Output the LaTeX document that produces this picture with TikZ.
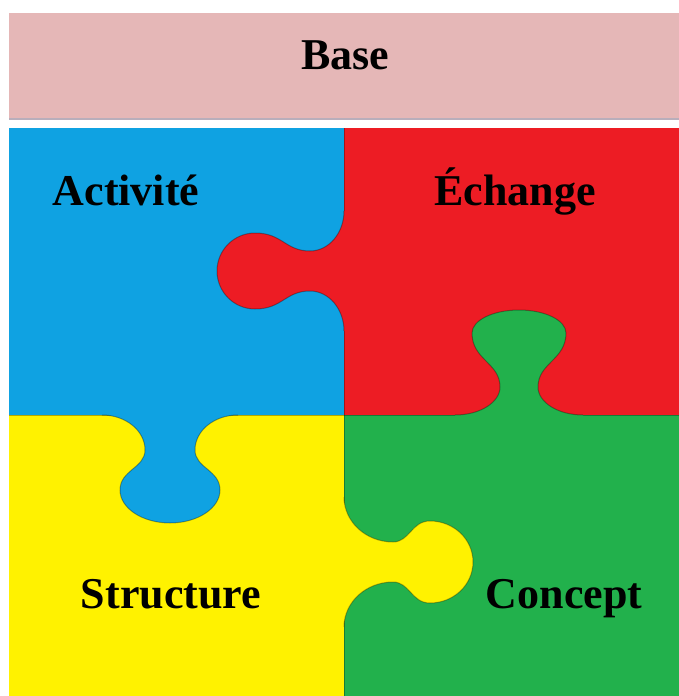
\documentclass[tikz,border=0pt]{standalone}
\usepackage{fontspec}
\setmainfont{Liberation Serif}

\definecolor{basepink}{HTML}{E5B7B7}
\definecolor{baserule}{HTML}{B9AEBB}
\definecolor{pieceblue}{HTML}{0FA2E2}
\definecolor{piecered}{HTML}{ED1C24}
\definecolor{pieceyellow}{HTML}{FFF200}
\definecolor{piecegreen}{HTML}{22B14C}

% knob=colour/neck half/neck depth/bulb half/bulb depth/depth/flare half
\tikzset{
  seam/.style={draw=black,draw opacity=0.3,line width=1pt},
  pics/knob/.style args={#1/#2/#3/#4/#5/#6/#7}{code={
    \fill[#1] ({-#7},-3) -- ({-#7},0)
      .. controls ({-#7+0.552*(#7-#2)},0) and ({-#2},{0.448*#3}) .. ({-#2},#3)
      .. controls ({-#2},{#3+0.45*(#5-#3)}) and ({-#4},{#5-0.5*(#5-#3)}) .. ({-#4},#5)
      .. controls ({-#4},{#5+0.552*(#6-#5)}) and ({-0.552*#4},#6) .. (0,#6)
      .. controls ({0.552*#4},#6) and (#4,{#5+0.552*(#6-#5)}) .. (#4,#5)
      .. controls (#4,{#5-0.5*(#5-#3)}) and (#2,{#3+0.45*(#5-#3)}) .. (#2,#3)
      .. controls (#2,{0.448*#3}) and ({#7-0.552*(#7-#2)},0) .. (#7,0)
      -- (#7,-3) -- cycle;
    \draw[seam] ({-#7},0)
      .. controls ({-#7+0.552*(#7-#2)},0) and ({-#2},{0.448*#3}) .. ({-#2},#3)
      .. controls ({-#2},{#3+0.45*(#5-#3)}) and ({-#4},{#5-0.5*(#5-#3)}) .. ({-#4},#5)
      .. controls ({-#4},{#5+0.552*(#6-#5)}) and ({-0.552*#4},#6) .. (0,#6)
      .. controls ({0.552*#4},#6) and (#4,{#5+0.552*(#6-#5)}) .. (#4,#5)
      .. controls (#4,{#5-0.5*(#5-#3)}) and (#2,{#3+0.45*(#5-#3)}) .. (#2,#3)
      .. controls (#2,{0.448*#3}) and ({#7-0.552*(#7-#2)},0) .. (#7,0);
  }}
}

\begin{document}
\begin{tikzpicture}[x=1pt,y=-1pt,
    word/.style={font=\fontsize{44}{50}\selectfont\bfseries,anchor=base,inner sep=0pt}]
  \useasboundingbox[fill=white] (0,0) rectangle (679,696);

  % top bar
  \fill[basepink] (9,13) rectangle (679,118);
  \fill[baserule] (9,118) rectangle (679,120);
  \node[word] (base) at (345,69) {Base};

  % the four pieces
  \fill[pieceblue]   (9,128)   rectangle (344,415);
  \fill[piecered]    (344,128) rectangle (679,415);
  \fill[pieceyellow] (9,415)   rectangle (344,696);
  \fill[piecegreen]  (344,415) rectangle (679,696);
  \draw[seam] (344,128) -- (344,696);
  \draw[seam] (9,415) -- (679,415);

  % knobs
  \pic at (170,415) {knob=pieceblue/25/35/50/75/108/68};
  \pic[rotate=180] at (519,415) {knob=piecegreen/19/28/47/82/105/64};
  \pic[rotate=-90] at (344,271) {knob=piecered/20/34/38/89/127/60};
  \pic[rotate=90] at (344,562) {knob=pieceyellow/20/49/41/86/129/65};

  \node[word] (activite)  at (126,205) {Activité};
  \node[word] (echange)   at (515,205) {Échange};
  \node[word] (structure) at (171,608) {Structure};
  \node[word] (concept)   at (564,608) {Concept};
\end{tikzpicture}
\end{document}
